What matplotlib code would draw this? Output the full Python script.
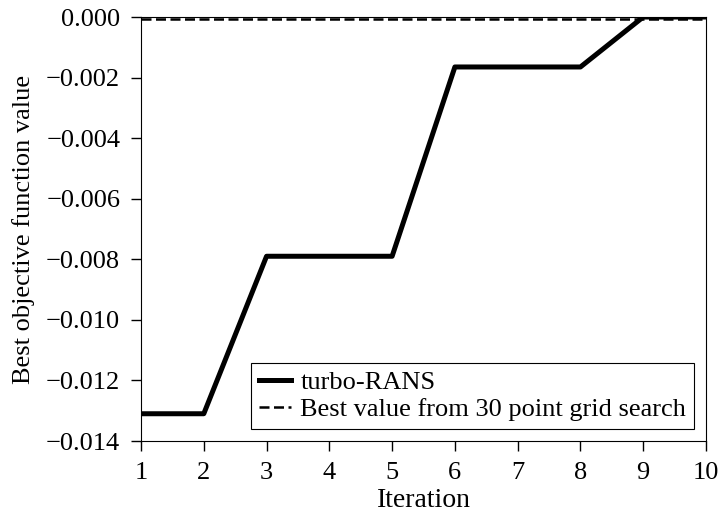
import numpy as np
import matplotlib.pyplot as plt

plt.rcParams['font.family'] = ['Liberation Serif', 'DejaVu Serif']

iterations = [1, 2, 3, 4, 5, 6, 7, 8, 9, 10]
best_value = [-0.0131, -0.0131, -0.0079, -0.0079, -0.0079,
              -0.00165, -0.00165, -0.00165, 0.0, 0.0]
grid_search_best = -0.00005
yticks = [-0.014, -0.012, -0.010, -0.008, -0.006, -0.004, -0.002, 0.0]

fig = plt.figure(figsize=(7.22, 5.16), dpi=100)
ax = fig.add_axes([141 / 722, 1 - 441 / 516, (706 - 141) / 722, (441 - 17) / 516])

ax.plot(iterations, best_value, color='black', lw=3.6, label='turbo-RANS')
ax.axhline(grid_search_best, color='black', lw=1.8, ls=(0, (4.0, 1.8)),
           label='Best value from 30 point grid search')

ax.set_xlim(1, 10)
ax.set_ylim(-0.014, 0.0)
ax.set_xticks(np.arange(1, 11))
ax.set_yticks(yticks)
ax.set_yticklabels(['\u2212%.3f' % abs(v) if v < 0 else '0.000' for v in yticks])
ax.tick_params(direction='out', length=7, width=1, pad=8, labelsize=19)
ax.set_xlabel('Iteration', fontsize=20, labelpad=3)
ax.set_ylabel('Best objective function value', fontsize=19, labelpad=8)

leg = ax.legend(loc='lower right', fontsize=19, fancybox=False, framealpha=1,
                edgecolor='black', handlelength=1.2, borderpad=0.3,
                labelspacing=0.12, handletextpad=0.35, borderaxespad=0,
                bbox_to_anchor=(553 / 565, 12 / 424))
leg.get_frame().set_linewidth(0.8)

fig.savefig('out.png', dpi=100)
